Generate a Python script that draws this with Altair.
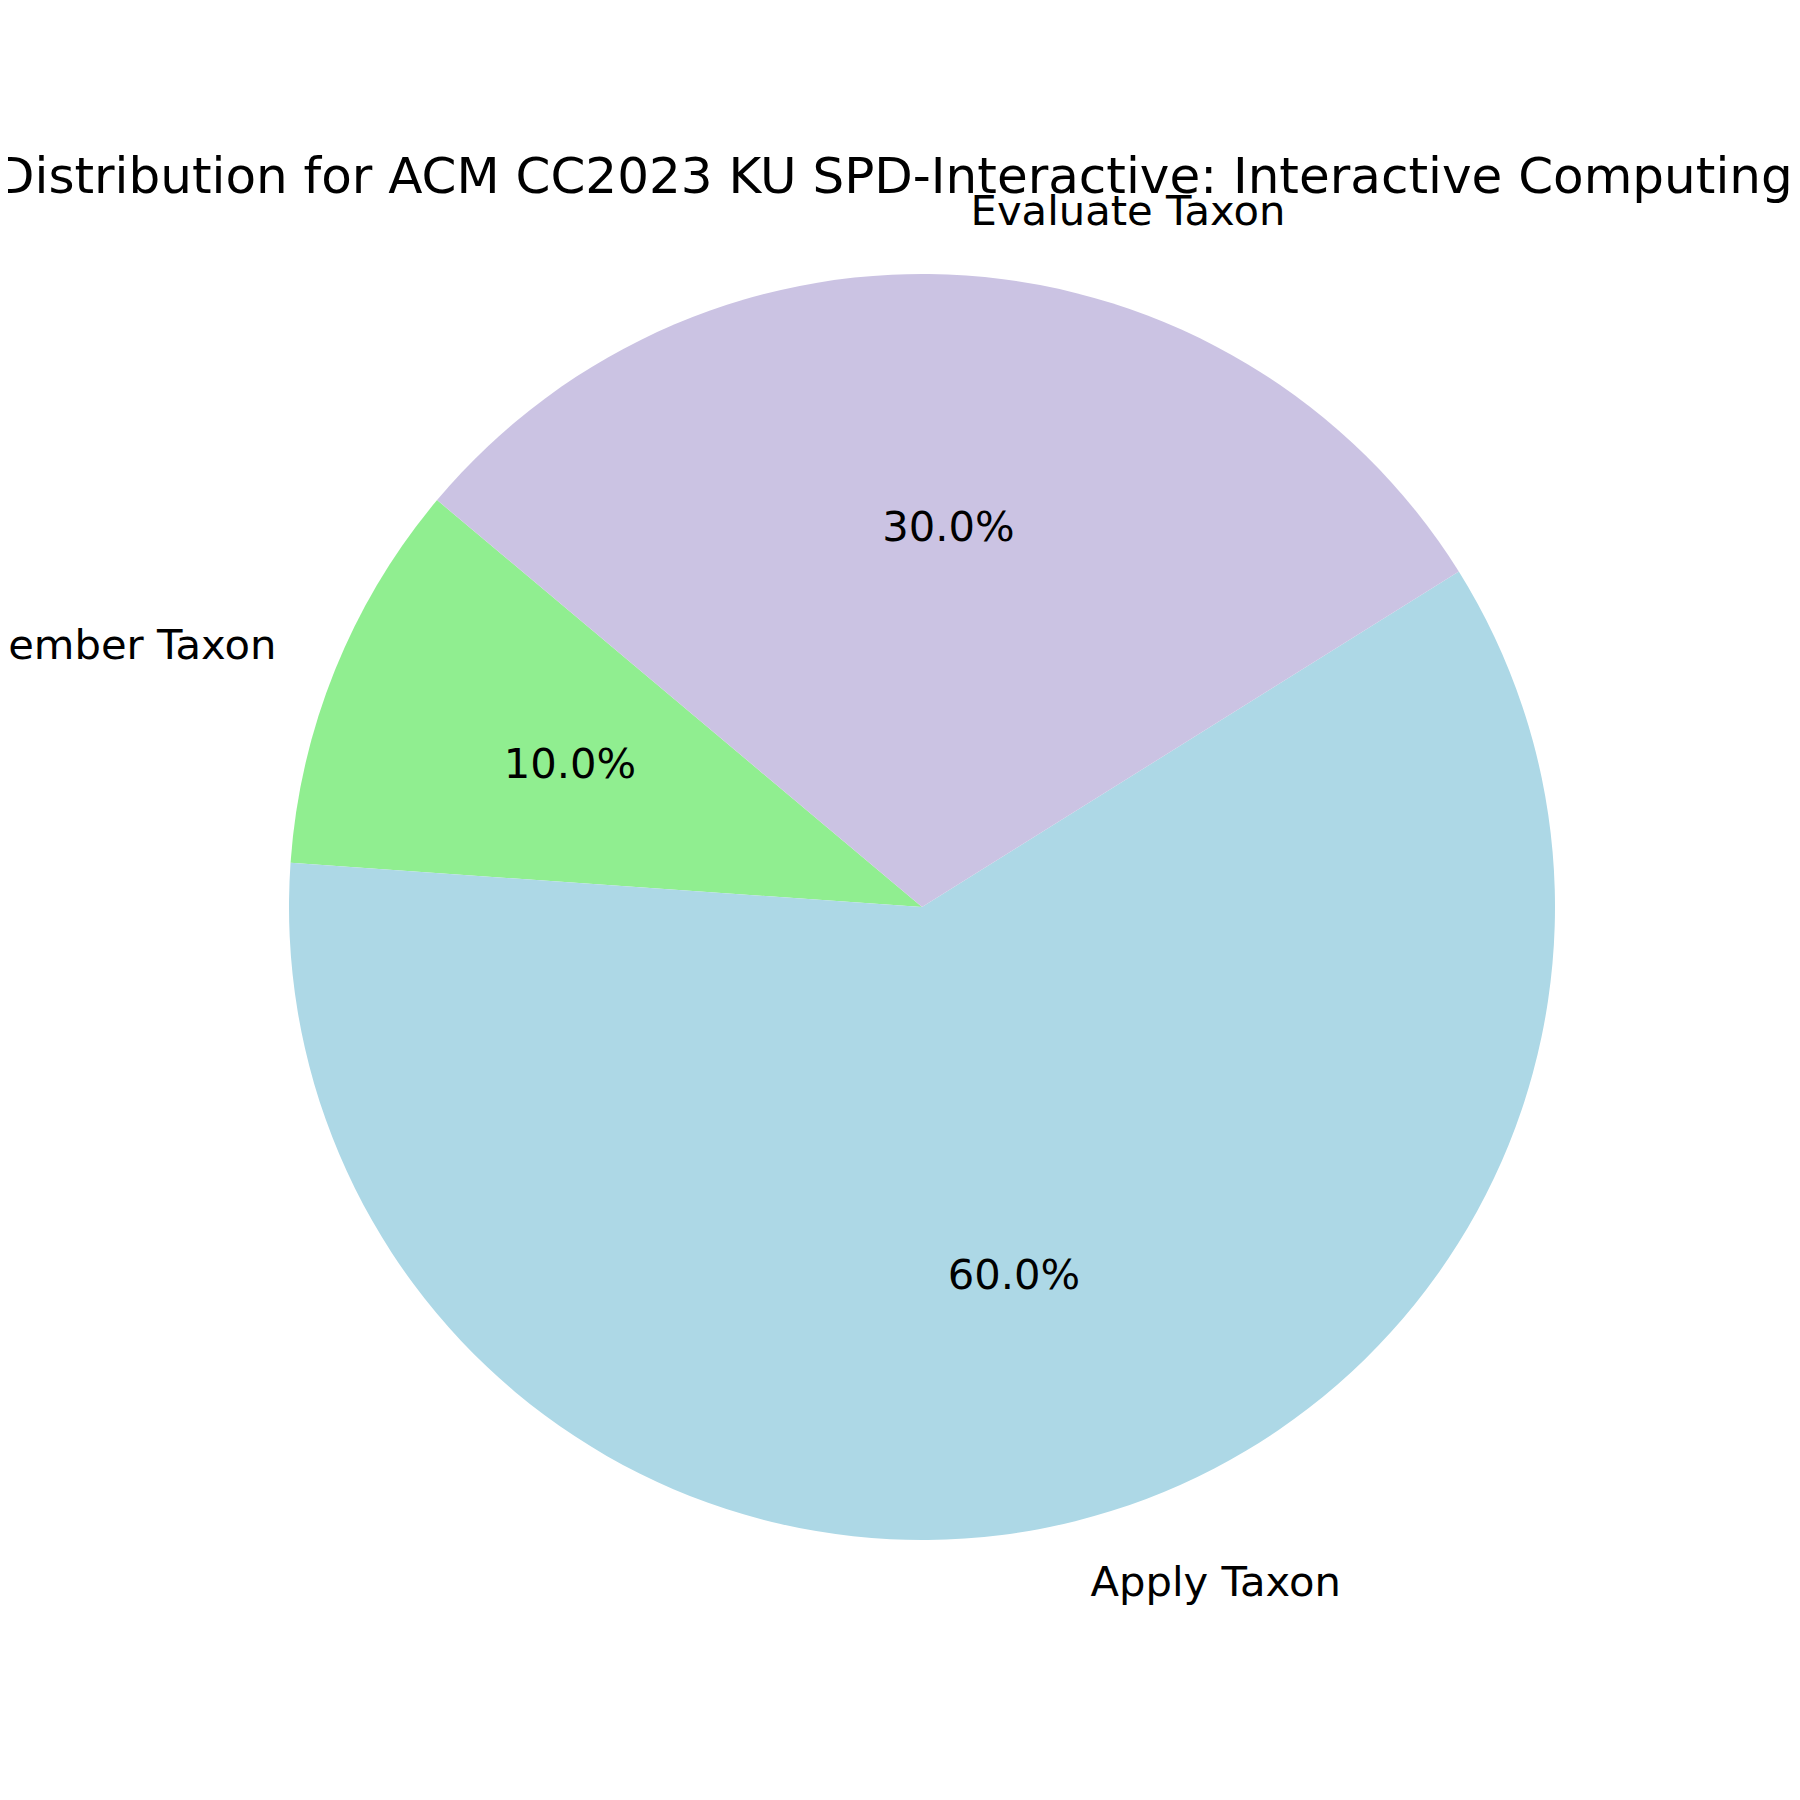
import math
import altair as alt
import pandas as pd

categories = ["Remember Taxon", "Apply Taxon", "Evaluate Taxon"]
values = [10, 60, 30]
colors = ["#90EE90", "#ADD8E6", "#CBC3E3"]
draw_order = [3, 2, 1]  # clockwise order starting from the start angle
title_text = "Distribution for ACM CC2023 KU SPD-Interactive: Interactive Computing"

df = pd.DataFrame({"category": categories, "value": values, "ord": draw_order})
title_df = pd.DataFrame({"title": [title_text]})

START_DEG = -50
start = math.radians(START_DEG)
theta_scale = alt.Scale(domain=[0, 100], range=[start, start + 2 * math.pi])

TOP = 220
CX, CY = 914, 907 - 8 - TOP
R = 633
FONT = "DejaVu Sans"

base = (
    alt.Chart(df)
    .transform_joinaggregate(total="sum(value)")
    .transform_window(cum="sum(value)", sort=[alt.SortField("ord")], frame=[None, 0])
    .transform_calculate(
        t0="100*(datum.cum - datum.value)/datum.total",
        t1="100*datum.cum/datum.total",
        tm="100*(datum.cum - datum.value/2)/datum.total",
        pct="format(100*datum.value/datum.total, '.1f') + '%'",
    )
    .transform_calculate(
        side=f"sin(({START_DEG} + 3.6*datum.tm)*PI/180) >= 0 ? 'left' : 'right'"
    )
)

arcs = base.mark_arc(outerRadius=R).encode(
    theta=alt.Theta("t0:Q", scale=theta_scale, stack=None),
    theta2="t1:Q",
    color=alt.Color("category:N", scale=alt.Scale(domain=categories, range=colors), legend=None),
    x=alt.value(CX),
    y=alt.value(CY),
)

pcts = base.mark_text(radius=0.6 * R, fontSize=41.7, font=FONT, align="center",
                      baseline="middle", color="black").encode(
    theta=alt.Theta("tm:Q", scale=theta_scale, stack=None),
    text="pct:N",
    x=alt.value(CX),
    y=alt.value(CY),
)

labels_left = base.transform_filter("datum.side == 'left'").mark_text(
    radius=1.1 * R, fontSize=41.7, font=FONT, align="left", baseline="middle", color="black"
).encode(
    theta=alt.Theta("tm:Q", scale=theta_scale, stack=None),
    text="category:N",
    x=alt.value(CX),
    y=alt.value(CY),
)

labels_right = base.transform_filter("datum.side == 'right'").mark_text(
    radius=1.1 * R, fontSize=41.7, font=FONT, align="right", baseline="middle", color="black"
).encode(
    theta=alt.Theta("tm:Q", scale=theta_scale, stack=None),
    text="category:N",
    x=alt.value(CX),
    y=alt.value(CY),
)

title = alt.Chart(title_df).mark_text(
    fontSize=50, font=FONT, align="left", baseline="alphabetic", color="black"
).encode(
    text="title:N",
    x=alt.value(-12),
    y=alt.value(193 - 8 - TOP),
)

chart = (
    alt.layer(arcs, pcts, labels_left, labels_right, title)
    .properties(
        width=1784,
        height=1784 - TOP,
        padding={"top": TOP, "left": 0, "right": 0, "bottom": 0},
        autosize=alt.AutoSizeParams(type="none"),
        background="white",
    )
    .configure_view(stroke=None)
)

chart.save("out.html", embed_options={"renderer": "svg", "actions": False})
